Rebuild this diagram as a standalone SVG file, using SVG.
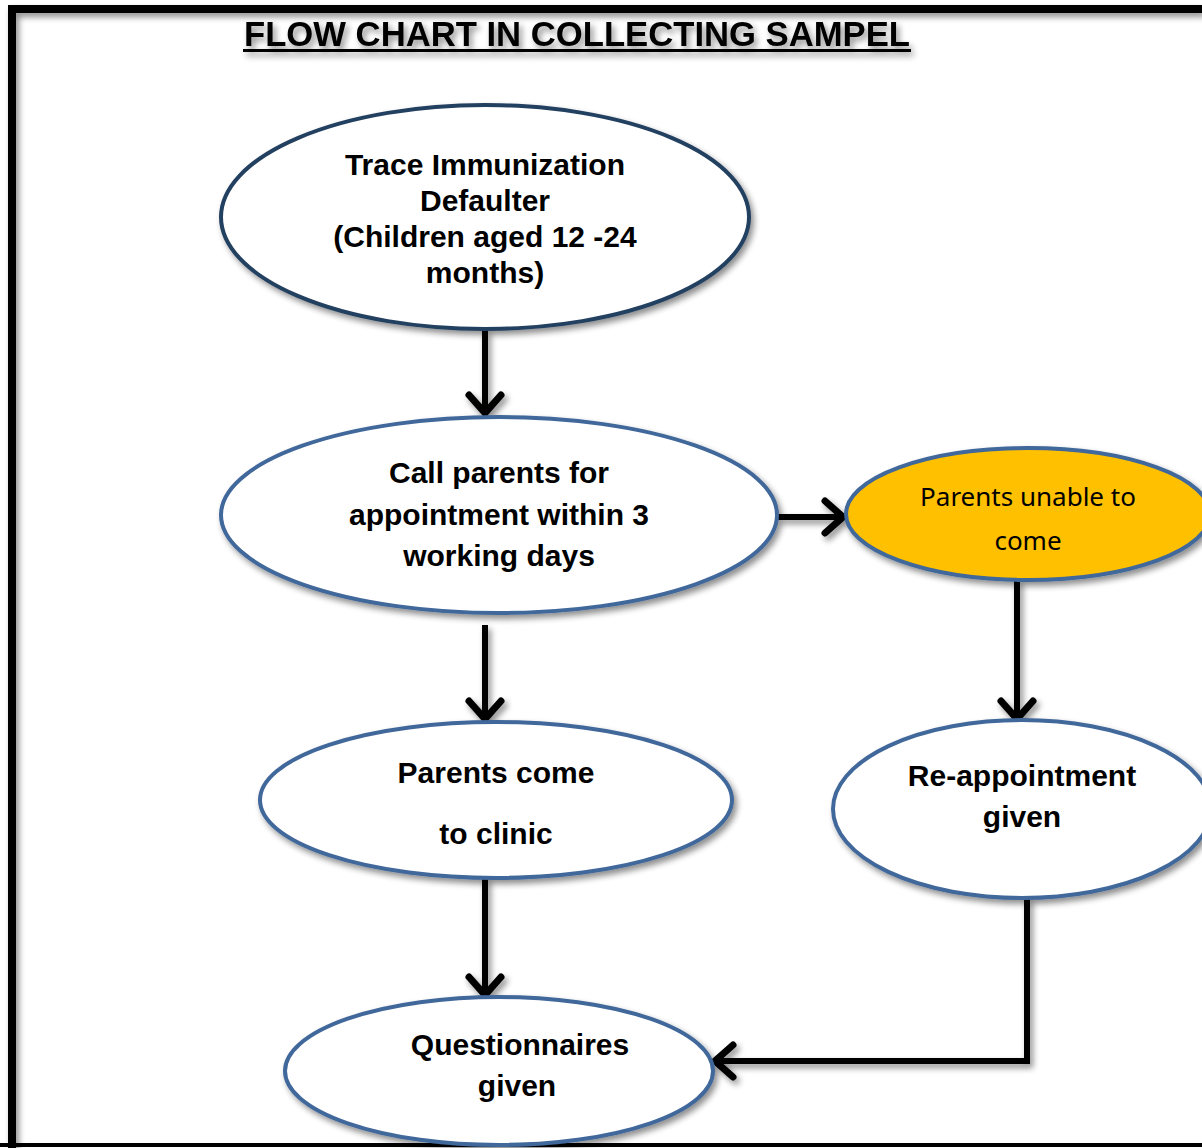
<svg xmlns="http://www.w3.org/2000/svg" width="1202" height="1148" viewBox="0 0 1202 1148">
<defs>
<filter id="sh" x="-10%" y="-10%" width="130%" height="140%">
<feGaussianBlur in="SourceAlpha" stdDeviation="3"/>
<feOffset dx="3" dy="4" result="b"/>
<feComponentTransfer><feFuncA type="linear" slope="0.45"/></feComponentTransfer>
<feMerge><feMergeNode/><feMergeNode in="SourceGraphic"/></feMerge>
</filter>
<marker id="ah" markerUnits="userSpaceOnUse" markerWidth="44" markerHeight="44" refX="32" refY="22" orient="auto" viewBox="0 0 44 44">
<path d="M14 6 L32 22 L14 38" fill="none" stroke="#000" stroke-width="7" stroke-linecap="round" stroke-linejoin="miter"/>
</marker>
</defs>
<style>
.node ellipse{fill:#fff;stroke:#41679A;stroke-width:4}
.b{font-family:"Liberation Sans",Arial,sans-serif;font-weight:bold;font-size:30px;text-anchor:middle;fill:#000}
.c{font-family:"Noto Sans","Liberation Sans",sans-serif;font-size:26px;text-anchor:middle;fill:#000}
.con path{fill:none;stroke:#000;stroke-width:6;marker-end:url(#ah)}
</style>
<rect width="1202" height="1148" fill="#fff"/>
<path d="M12 1148 V9 H1202" fill="none" stroke="#000" stroke-width="8" filter="url(#sh)"/>
<path d="M0 1145 H1202" fill="none" stroke="#000" stroke-width="4"/>
<g id="title" filter="url(#sh)">
<text x="577" y="46" font-family="'Liberation Sans Narrow','Liberation Sans',sans-serif" font-weight="bold" font-size="35" text-anchor="middle" textLength="666" lengthAdjust="spacingAndGlyphs">FLOW CHART IN COLLECTING SAMPEL</text>
<rect x="243" y="49" width="668" height="3" fill="#000"/>
</g>
<g class="con" filter="url(#sh)">
<path d="M485 330 V413"/>
<path d="M778 517 H843"/>
<path d="M485 625 V719"/>
<path d="M1017 580 V719"/>
<path d="M485 878 V995"/>
<path d="M1027 898 V1061 H715"/>
</g>
<g id="n1" class="node">
<ellipse cx="485" cy="217" rx="264" ry="112" filter="url(#sh)" style="stroke:#243F60"/>
<text class="b" x="485" y="175">Trace Immunization</text>
<text class="b" x="485" y="211">Defaulter</text>
<text class="b" x="485" y="247">(Children aged 12 -24</text>
<text class="b" x="485" y="283">months)</text>
</g>
<g id="n2" class="node">
<ellipse cx="499" cy="515" rx="278" ry="98" filter="url(#sh)"/>
<text class="b" x="499" y="483">Call parents for</text>
<text class="b" x="499" y="525">appointment within 3</text>
<text class="b" x="499" y="566">working days</text>
</g>
<g id="n3" class="node">
<ellipse cx="1028" cy="514" rx="182" ry="66" filter="url(#sh)" style="fill:#FFC000"/>
<text class="c" x="1028" y="506">Parents unable to</text>
<text class="c" x="1028" y="550">come</text>
</g>
<g id="n4" class="node">
<ellipse cx="496" cy="800" rx="236" ry="78" filter="url(#sh)"/>
<text class="b" x="496" y="783">Parents come</text>
<text class="b" x="496" y="844">to clinic</text>
</g>
<g id="n5" class="node">
<ellipse cx="1022" cy="809" rx="189" ry="89" filter="url(#sh)"/>
<text class="b" x="1022" y="786">Re-appointment</text>
<text class="b" x="1022" y="827">given</text>
</g>
<g id="n6" class="node">
<ellipse cx="499" cy="1071" rx="214" ry="74" filter="url(#sh)"/>
<text class="b" x="520" y="1055">Questionnaires</text>
<text class="b" x="517" y="1096">given</text>
</g>
</svg>
